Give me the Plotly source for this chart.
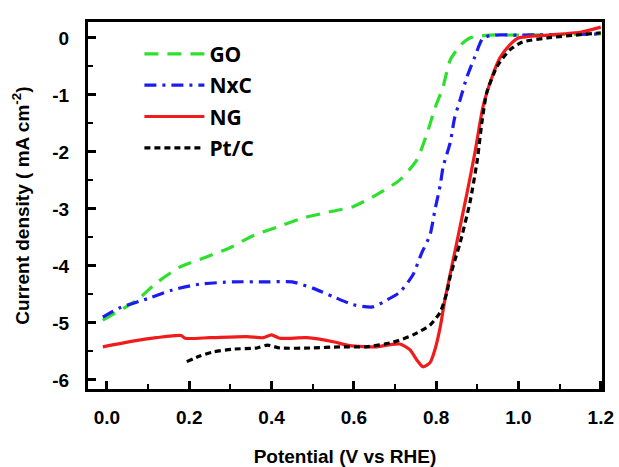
import plotly.graph_objects as go

# ---- data ----
go_x = [-0.01, 0.073, 0.12, 0.177, 0.243, 0.299, 0.355, 0.413, 0.476, 0.542, 0.598, 0.646,
        0.712, 0.753, 0.78, 0.797, 0.816, 0.834, 0.86, 0.882, 0.93, 1.0, 1.1, 1.2]
go_y = [-4.95, -4.60, -4.30, -4.02, -3.84, -3.68, -3.47, -3.32, -3.16, -3.05, -2.96, -2.79,
        -2.49, -2.14, -1.63, -1.23, -0.88, -0.39, -0.12, 0.0, 0.05, 0.05, 0.06, 0.07]

nxc_x = [-0.01, 0.03, 0.105, 0.16, 0.226, 0.306, 0.389, 0.45, 0.50, 0.55, 0.598, 0.646, 0.68,
         0.712, 0.744, 0.765, 0.785, 0.797, 0.81, 0.817, 0.834, 0.845, 0.858, 0.875, 0.894,
         0.914, 0.943, 1.0, 1.2]
nxc_y = [-4.9, -4.74, -4.56, -4.42, -4.32, -4.28, -4.28, -4.28, -4.39, -4.54, -4.68, -4.72, -4.6,
         -4.46, -4.15, -3.77, -3.46, -3.02, -2.58, -2.26, -1.84, -1.4, -1.09, -0.68, -0.33,
         0.0, 0.05, 0.05, 0.07]

ng_x = [-0.01, 0.063, 0.12, 0.18, 0.19, 0.25, 0.34, 0.38, 0.40, 0.42, 0.486, 0.55, 0.59, 0.656,
        0.69, 0.712, 0.736, 0.753, 0.768, 0.785, 0.797, 0.81, 0.821, 0.834, 0.853, 0.875, 0.894,
        0.914, 0.936, 0.955, 0.979, 1.0, 1.07, 1.15, 1.2]
ng_y = [-5.42, -5.32, -5.26, -5.22, -5.27, -5.26, -5.24, -5.26, -5.21, -5.27, -5.26, -5.33, -5.40,
        -5.42, -5.38, -5.37, -5.47, -5.65, -5.77, -5.70, -5.47, -5.07, -4.6, -4.15, -3.49, -2.72,
        -2.02, -1.2, -0.68, -0.35, -0.12, 0.0, 0.05, 0.1, 0.19]

ptc_x = [0.194, 0.226, 0.258, 0.306, 0.365, 0.39, 0.42, 0.5, 0.566, 0.63, 0.695, 0.744, 0.785,
         0.81, 0.826, 0.834, 0.846, 0.858, 0.882, 0.9, 0.911, 0.923, 0.948, 0.979, 1.01, 1.07, 1.2]
ptc_y = [-5.68, -5.58, -5.51, -5.46, -5.44, -5.39, -5.44, -5.44, -5.42, -5.42, -5.34, -5.21, -5.04,
         -4.81, -4.47, -4.19, -3.89, -3.6, -2.89, -2.14, -1.49, -0.96, -0.5, -0.21, -0.07, 0.0, 0.09]

x_tickvals = [0.0, 0.2, 0.4, 0.6, 0.8, 1.0, 1.2]
x_ticktext = ["0.0", "0.2", "0.4", "0.6", "0.8", "1.0", "1.2"]
y_tickvals = [0, -1, -2, -3, -4, -5, -6]
y_ticktext = ["0", "-1", "-2", "-3", "-4", "-5", "-6"]

x_title = "Potential (V vs RHE)"
y_title = "Current density ( mA cm<sup>-2</sup>)"

series = [
    ("GO", go_x, go_y, "#2ee02e", "14px,9px"),
    ("NxC", nxc_x, nxc_y, "#1c1cf0", "12px,6px,3px,6px"),
    ("NG", ng_x, ng_y, "#f01c1c", "solid"),
    ("Pt/C", ptc_x, ptc_y, "#000000", "6px,4px"),
]

fig = go.Figure()
for i, (name, xs, ys, col, dash) in enumerate(series):
    fig.add_trace(go.Scatter(
        x=xs, y=ys, mode="lines", name=name, legendgroup=f"g{i}",
        line=dict(color=col, width=3.2, dash=dash, shape="spline", smoothing=0.6),
    ))

axis_font = dict(family="Liberation Sans, Arial, sans-serif", size=19, color="black", weight="bold")

fig.update_layout(
    width=619, height=467,
    margin=dict(l=88, r=17, t=22, b=78),
    paper_bgcolor="white", plot_bgcolor="white",
    showlegend=True,
    legend=dict(
        x=0.1, y=0.968, xanchor="left", yanchor="top",
        bgcolor="rgba(0,0,0,0)", borderwidth=0,
        font=dict(family="Open Sans, sans-serif", size=21, color="black", weight="bold"),
        traceorder="grouped", tracegroupgap=1, itemwidth=60,
    ),
    xaxis=dict(
        range=[-0.046, 1.203], tickvals=x_tickvals, ticktext=x_ticktext,
        ticks="inside", ticklen=8, tickwidth=2.5, tickcolor="black",
        minor=dict(ticks="inside", ticklen=5, tickwidth=2, dtick=0.1, tick0=0, tickcolor="black"),
        showline=True, linewidth=3, linecolor="black", mirror=True, automargin=False,
        showgrid=False, zeroline=False, tickfont=axis_font, ticklabelstandoff=9,
        title=dict(text=x_title, font=axis_font, standoff=30),
    ),
    yaxis=dict(
        range=[-6.16, 0.28], tickvals=y_tickvals, ticktext=y_ticktext,
        ticks="inside", ticklen=8, tickwidth=2.5, tickcolor="black",
        minor=dict(ticks="inside", ticklen=5, tickwidth=2, dtick=0.5, tick0=0, tickcolor="black"),
        showline=True, linewidth=3, linecolor="black", mirror=True, automargin=False,
        showgrid=False, zeroline=False, tickfont=axis_font, ticklabelstandoff=12,
    ),
    annotations=[dict(
        text=y_title, textangle=-90, font=axis_font, showarrow=False,
        xref="paper", yref="paper", x=-0.132, y=0.5, xanchor="center", yanchor="middle",
    )],
)

fig.write_html("out.html")
